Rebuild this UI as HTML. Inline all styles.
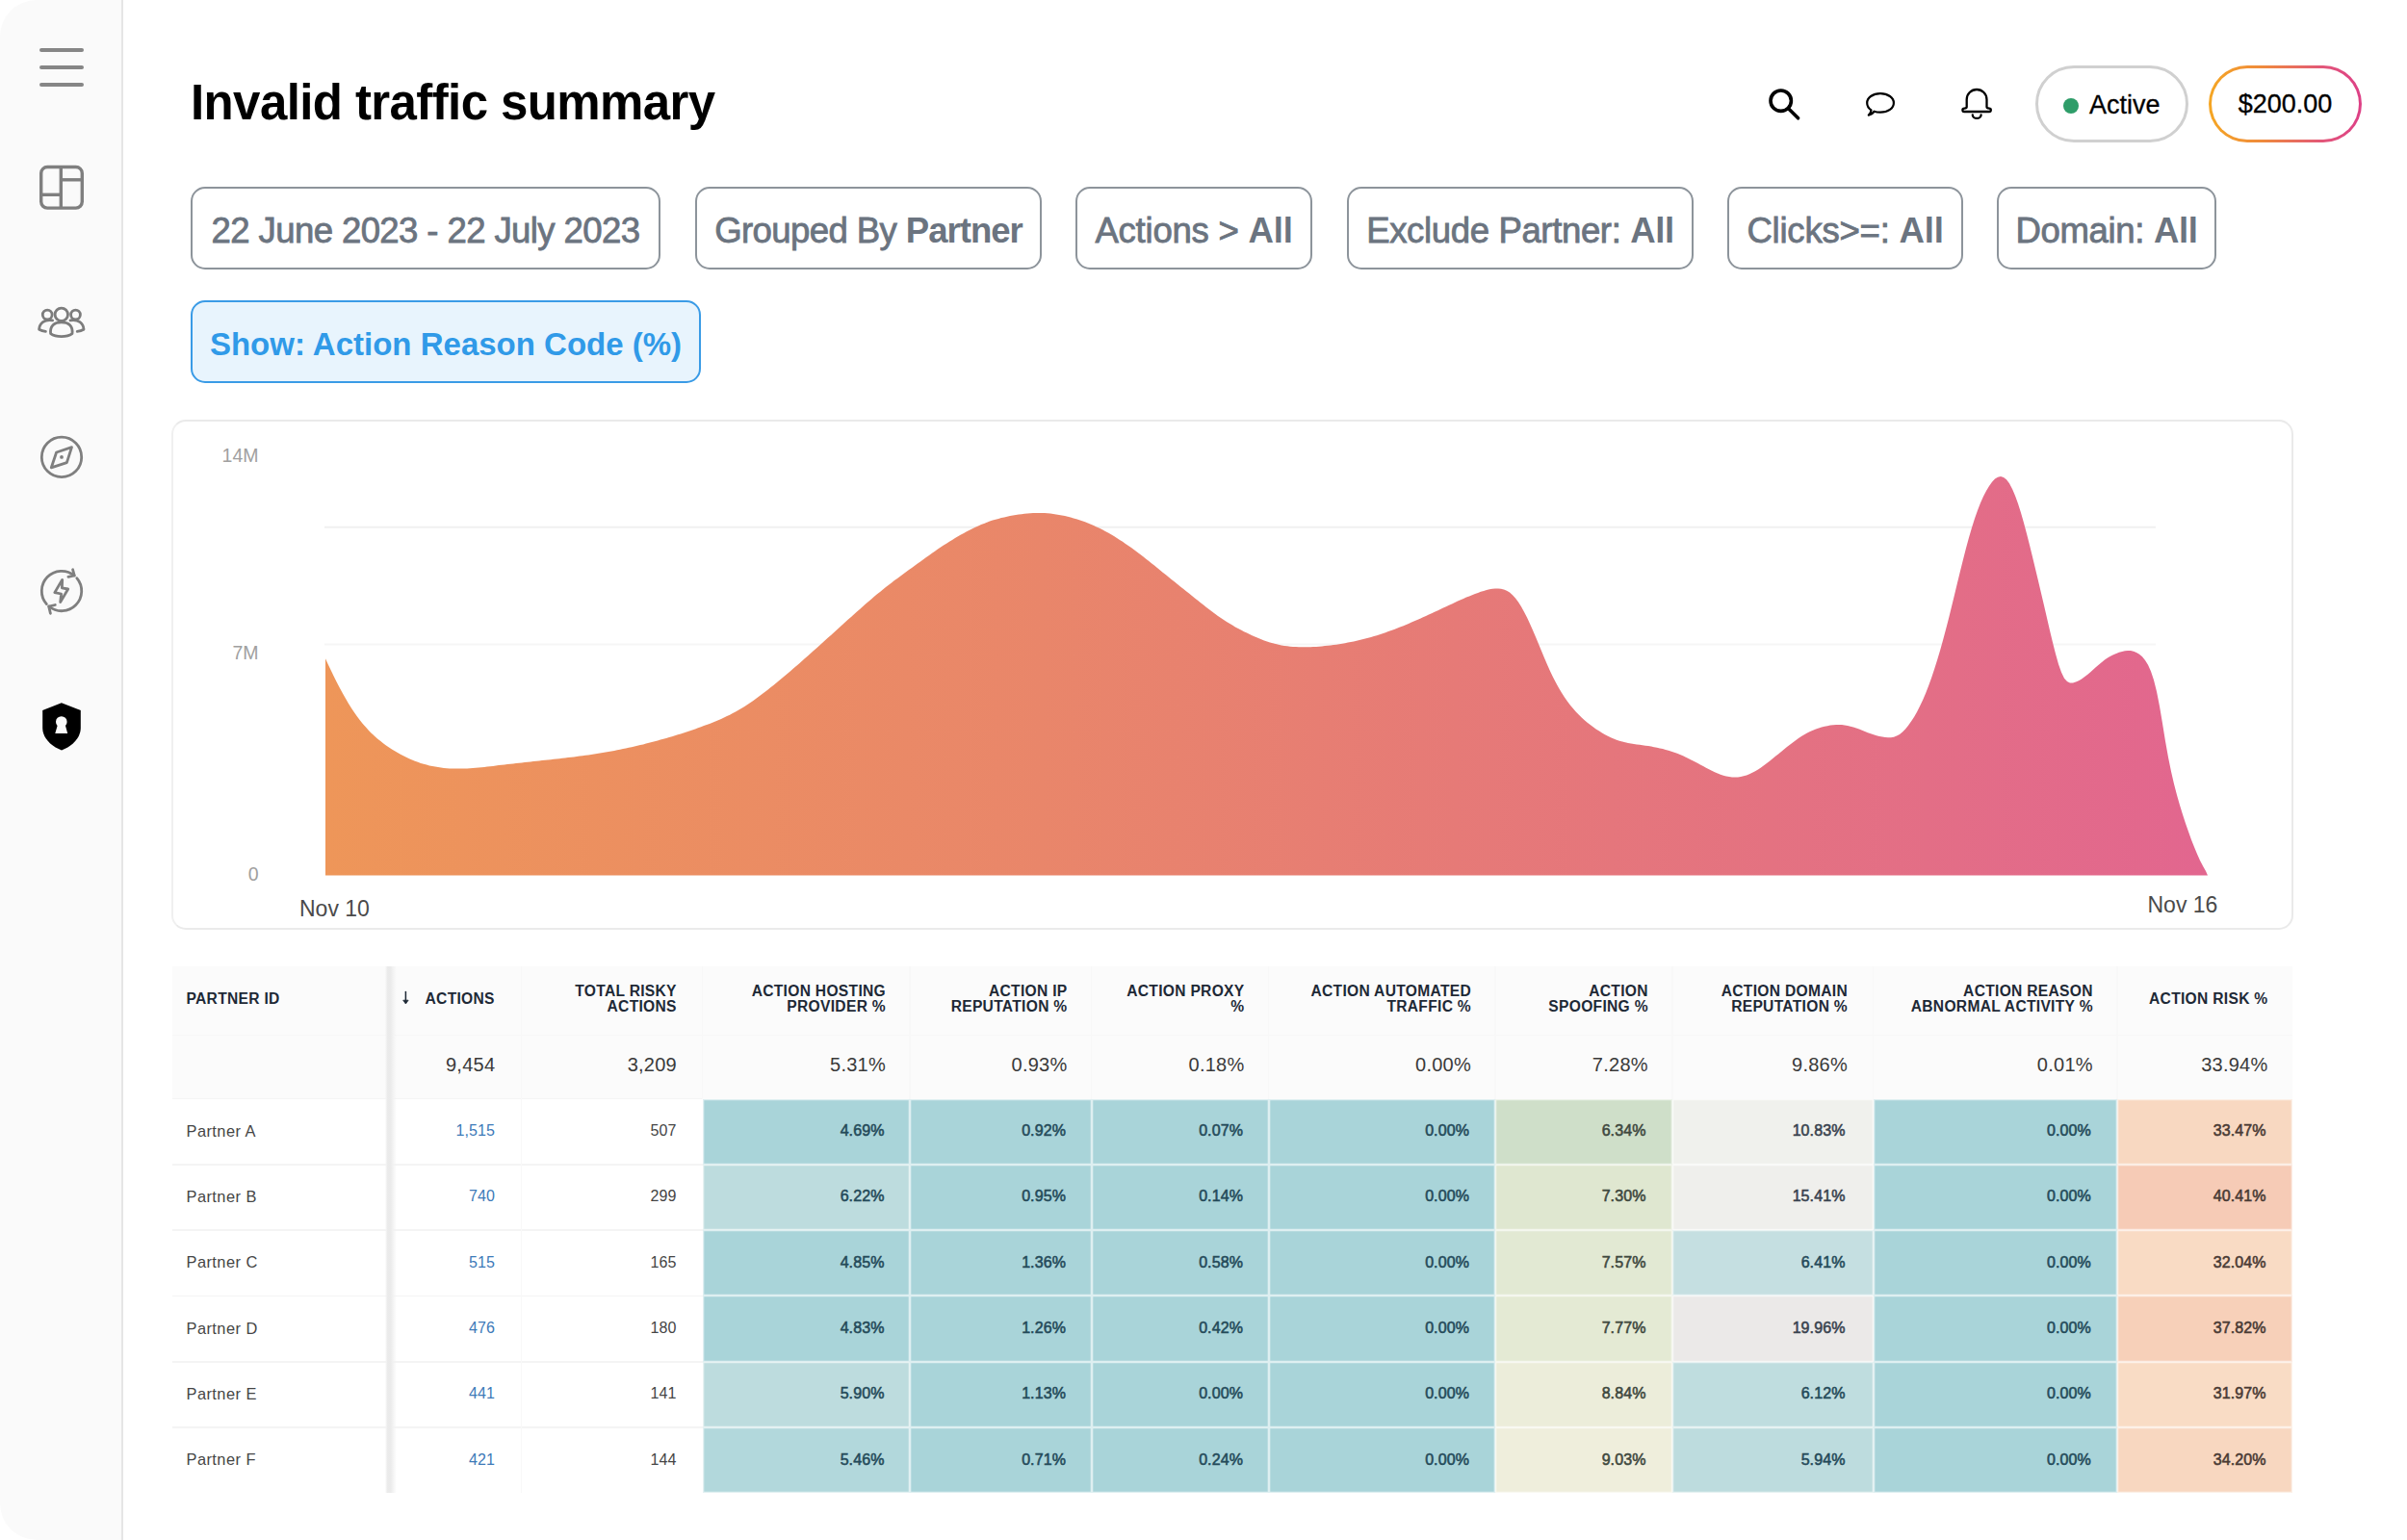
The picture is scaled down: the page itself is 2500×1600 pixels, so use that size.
<!DOCTYPE html>
<html lang="en">
<head>
<meta charset="utf-8">
<title>Invalid traffic summary</title>
<style>
*{box-sizing:border-box;margin:0;padding:0}
html,body{width:2500px;height:1600px;overflow:hidden;background:#fff}
body{font-family:"Liberation Sans",sans-serif;position:relative;color:#000}
.abs{position:absolute}
#side{position:absolute;left:0;top:0;width:128px;height:1600px;background:#fafafa;border-right:2px solid #e5e5e5;border-top-left-radius:38px;border-bottom-left-radius:38px}
#icons{position:absolute;left:0;top:0;width:2500px;height:1600px;z-index:5;pointer-events:none}
h1{position:absolute;left:198px;top:75px;font-size:51px;line-height:64px;font-weight:bold;letter-spacing:-0.6px;white-space:nowrap;color:#000}
.pill{position:absolute;top:68px;height:80px;width:159px;border-radius:40px;font-size:27px;line-height:80px;white-space:nowrap;color:#000}
#active{left:2113.5px;border:3px solid #d0d0d0;background:#fff}
#active i{position:absolute;left:26.5px;top:30.5px;width:16px;height:16px;border-radius:50%;background:#2e9d69}
#active span{position:absolute;left:53.5px;top:-2px;-webkit-text-stroke:.3px #000}
#money{left:2294px;background:linear-gradient(90deg,#f5a623 0%,#ef8a3c 35%,#e2567a 75%,#dd3f86 100%)}
#money b{position:absolute;left:3px;top:3px;right:3px;bottom:3px;border-radius:37px;background:#fff}
#money span{position:absolute;left:0;width:100%;top:0;text-align:center;-webkit-text-stroke:.3px #000}
.fb{position:absolute;top:194px;height:86px;border:2px solid #8d949b;border-radius:15px;color:#6b7480;font-size:36.6px;letter-spacing:-.62px;line-height:88px;white-space:nowrap;text-align:center;background:#fff;-webkit-text-stroke:.8px #6b7480}
.fb b{font-weight:bold;-webkit-text-stroke:0}
#show{top:312px;left:198px;width:530px;border:2px solid #3a9be6;background:#e8f4fd;color:#309ae8;-webkit-text-stroke:0;font-weight:bold;font-size:33px;letter-spacing:0}
#card{position:absolute;left:178.3px;top:436px;width:2203.7px;height:530px;border:2px solid #eaeaea;border-left-color:#f0f0f0;border-radius:15px;background:#fff}
#chart{position:absolute;left:0;top:0;width:2500px;height:1600px}
#chart text{font-family:"Liberation Sans",sans-serif}
.th,.tt,.td{position:absolute;display:flex;align-items:center;justify-content:flex-end;text-align:right;white-space:nowrap}
.th{font-weight:bold;font-size:15.6px;line-height:16.5px;color:#1e2936;padding-right:26px;letter-spacing:.3px;padding-bottom:3px}
.tt{font-size:20px;color:#3a3a3a;padding-right:25.5px;letter-spacing:.25px;padding-bottom:4px}
.td{font-size:16px;color:#454545;padding-right:26.5px;letter-spacing:.1px;padding-bottom:1px}
.td.pn{font-size:16.4px;letter-spacing:.45px}
.td.lk{color:#3d7ab8}
.td.cc{color:#263d49;-webkit-text-stroke:.55px #263d49;box-shadow:inset 0 0 0 1.3px rgba(255,255,255,.62)}
</style>
</head>
<body>
<div id="side"></div>
<svg id="icons" viewBox="0 0 2500 1600" fill="none">
<!-- menu -->
<g stroke="#868686" stroke-width="4" stroke-linecap="round"><line x1="43" y1="52" x2="85" y2="52"/><line x1="43" y1="70" x2="85" y2="70"/><line x1="43" y1="88" x2="85" y2="88"/></g>
<!-- dashboard -->
<g stroke="#7f7f7f" stroke-width="3.4" stroke-linejoin="round"><rect x="42.7" y="173.5" width="42.6" height="42.6" rx="6.5"/><line x1="63.3" y1="173.5" x2="63.3" y2="216"/><line x1="63.3" y1="186.8" x2="85.3" y2="186.8"/><line x1="42.7" y1="202.3" x2="63.3" y2="202.3"/></g>
<!-- people -->
<g stroke="#7c7c7c" stroke-width="2.8" stroke-linecap="round" stroke-linejoin="round">
<circle cx="63.8" cy="326.8" r="6.7"/><circle cx="49.2" cy="327" r="4.9"/><circle cx="78.5" cy="327" r="4.9"/>
<path d="M52.6,346.6 C51.7,338.6 56.2,334.9 63.8,334.9 C71.4,334.9 75.9,338.6 75,346.6 C69.5,350.6 58.1,350.6 52.6,346.6 Z"/>
<path d="M54.6,332.9 C46,331.6 41,335.5 40.6,342.2 C42.6,343.4 45,344.1 47.4,344.4"/>
<path d="M73,332.9 C81.6,331.6 86.6,335.5 87,342.2 C85,343.4 82.6,344.1 80.2,344.4"/>
</g>
<!-- compass -->
<g stroke="#7f7f7f" stroke-width="2.8" stroke-linejoin="round"><circle cx="64" cy="474.9" r="20.7"/><path d="M74.5,464.6 L69.4,480.6 L53.3,485.8 L58.6,470 Z"/><circle cx="64" cy="474.9" r="1.9" fill="#7f7f7f" stroke="none"/></g>
<!-- bolt refresh -->
<g stroke="#7f7f7f" stroke-width="2.8" stroke-linecap="round" stroke-linejoin="round">
<path d="M48.38,627.58 A20.7,20.7 0 0 1 77.11,597.98"/><path d="M75.6,591.8 L77.3,598 L70.9,599.3"/>
<path d="M79.79,600.61 A20.7,20.7 0 0 1 50.86,630"/><path d="M57.3,628.5 L50.7,630.1 L52.4,637.3"/>
<path d="M64.7,602.3 L56.8,615.6 L63.6,617 L62.7,625.6 L70.7,612 L64.4,610.8 Z"/>
</g>
<!-- shield -->
<path d="M63.9,730.2 L83.8,738 V756 C83.8,767 75,775 64,779.6 C53,775 44.2,767 44.2,756 V738 Z" fill="#000"/>
<path d="M59.6,754 A5.8,5.8 0 1 1 68,754 L70.2,762 H57.3 Z" fill="#fafafa"/>
<!-- sort arrow -->
<path d="M421.4,1030.4 V1041" stroke="#1e2936" stroke-width="1.5" stroke-linecap="round"/><path d="M418.7,1039.2 H424.1 L421.4,1043 Z" fill="#1e2936" stroke="#1e2936" stroke-width=".8" stroke-linejoin="round"/>
<!-- search -->
<g stroke="#000" stroke-width="3.6" stroke-linecap="round"><circle cx="1849.7" cy="104.7" r="10.7"/><line x1="1858" y1="113.2" x2="1867.6" y2="122.8"/></g>
<!-- chat -->
<g stroke="#000" stroke-width="2.2" stroke-linejoin="round"><path d="M1953,97.2 C1961,97.2 1966.9,101.4 1966.9,106.9 C1966.9,112.4 1961,116.7 1953,116.7 C1950.6,116.7 1948.5,116.4 1946.6,115.7 C1945.2,117.8 1943.2,119.2 1940.8,119.6 C1942.2,118.3 1943.2,116.4 1943.5,114.3 C1940.8,112.5 1939.2,109.9 1939.2,106.9 C1939.2,101.4 1945,97.2 1953,97.2 Z"/></g>
<!-- bell -->
<g stroke="#000" stroke-width="2.3" stroke-linejoin="round" stroke-linecap="round"><path d="M2042.7,111 V103.4 a10.4,10.4 0 0 1 20.8,0 V111 q0,1.6 2.6,1.6 a1.7,1.7 0 0 1 0,3.4 H2040.1 a1.7,1.7 0 0 1 0,-3.4 q2.6,0 2.6,-1.6 Z"/><path d="M2048.8,119.4 a4.4,3.5 0 0 0 8.8,0"/></g>
</svg>
<h1>Invalid traffic summary</h1>
<div class="pill" id="active"><i></i><span>Active</span></div>
<div class="pill" id="money"><b></b><span>$200.00</span></div>

<div class="fb" style="left:198px;width:488px">22 June 2023 - 22 July 2023</div>
<div class="fb" style="left:722px;width:360px">Grouped By <b style="letter-spacing:-1px">Partner</b></div>
<div class="fb" style="left:1117px;width:246px;letter-spacing:-.25px">Actions &gt; <b>All</b></div>
<div class="fb" style="left:1399px;width:360px;letter-spacing:-.38px">Exclude Partner: <b>All</b></div>
<div class="fb" style="left:1794px;width:245px;letter-spacing:-.25px">Clicks&gt;=: <b>All</b></div>
<div class="fb" style="left:2074px;width:228px;letter-spacing:-.37px">Domain: <b>All</b></div>
<div class="fb" id="show">Show: Action Reason Code (%)</div>

<div id="card"></div>
<svg id="chart" viewBox="0 0 2500 1600">
<defs><linearGradient id="ag" x1="338" y1="0" x2="2294" y2="0" gradientUnits="userSpaceOnUse"><stop offset="0" stop-color="#ee9659"/><stop offset="0.38" stop-color="#e9866a"/><stop offset="0.6" stop-color="#e67a77"/><stop offset="0.85" stop-color="#e36e86"/><stop offset="1" stop-color="#e2668f"/></linearGradient></defs>
<line x1="337" y1="547.7" x2="2239" y2="547.7" stroke="#f0f0f0" stroke-width="2"/>
<line x1="337" y1="669.4" x2="2239" y2="669.4" stroke="#f6f6f6" stroke-width="2"/>
<path fill="url(#ag)" d="M338,909.5 L338,684.3 L341,690.7 L344,697 L347,703.2 L350,709.2 L353,715 L356,720.5 L359,725.8 L362,730.9 L365,735.7 L368,740.2 L371,744.5 L374,748.4 L377,752.2 L380,755.6 L383,758.9 L386,761.9 L389,764.7 L392,767.4 L395,769.8 L398,772.2 L401,774.4 L404,776.4 L407,778.4 L410,780.3 L413,782 L416,783.7 L419,785.3 L422,786.8 L425,788.2 L428,789.5 L431,790.7 L434,791.8 L437,792.9 L440,793.8 L443,794.6 L446,795.4 L449,796 L452,796.6 L455,797.1 L458,797.5 L461,797.9 L464,798.2 L467,798.4 L470,798.5 L473,798.6 L476,798.6 L479,798.6 L482,798.5 L485,798.4 L488,798.2 L491,798 L494,797.8 L497,797.5 L500,797.2 L503,796.9 L506,796.6 L509,796.2 L512,795.9 L515,795.5 L518,795.1 L521,794.8 L524,794.4 L527,794.1 L530,793.7 L533,793.4 L536,793.1 L539,792.7 L542,792.4 L545,792.1 L548,791.8 L551,791.4 L554,791.1 L557,790.8 L560,790.5 L563,790.1 L566,789.8 L569,789.5 L572,789.2 L575,788.8 L578,788.5 L581,788.2 L584,787.8 L587,787.5 L590,787.1 L593,786.7 L596,786.4 L599,786 L602,785.6 L605,785.2 L608,784.8 L611,784.4 L614,783.9 L617,783.5 L620,783 L623,782.5 L626,782 L629,781.5 L632,781 L635,780.5 L638,779.9 L641,779.3 L644,778.7 L647,778.1 L650,777.5 L653,776.8 L656,776.2 L659,775.5 L662,774.8 L665,774.1 L668,773.4 L671,772.6 L674,771.8 L677,771.1 L680,770.3 L683,769.5 L686,768.6 L689,767.8 L692,766.9 L695,766 L698,765.2 L701,764.2 L704,763.3 L707,762.4 L710,761.4 L713,760.4 L716,759.4 L719,758.4 L722,757.4 L725,756.3 L728,755.2 L731,754.1 L734,753 L737,751.9 L740,750.7 L743,749.5 L746,748.2 L749,746.9 L752,745.6 L755,744.1 L758,742.7 L761,741.1 L764,739.5 L767,737.8 L770,736 L773,734.2 L776,732.2 L779,730.2 L782,728.2 L785,726 L788,723.8 L791,721.6 L794,719.3 L797,717 L800,714.6 L803,712.2 L806,709.7 L809,707.3 L812,704.8 L815,702.3 L818,699.7 L821,697.2 L824,694.6 L827,692 L830,689.4 L833,686.8 L836,684.1 L839,681.5 L842,678.8 L845,676.1 L848,673.4 L851,670.7 L854,668 L857,665.3 L860,662.6 L863,659.9 L866,657.2 L869,654.5 L872,651.7 L875,649 L878,646.3 L881,643.6 L884,640.9 L887,638.2 L890,635.6 L893,632.9 L896,630.2 L899,627.6 L902,625 L905,622.4 L908,619.8 L911,617.3 L914,614.9 L917,612.4 L920,610 L923,607.7 L926,605.4 L929,603.1 L932,600.9 L935,598.7 L938,596.5 L941,594.3 L944,592.1 L947,589.9 L950,587.7 L953,585.5 L956,583.4 L959,581.2 L962,579 L965,576.9 L968,574.8 L971,572.7 L974,570.6 L977,568.6 L980,566.6 L983,564.7 L986,562.7 L989,560.9 L992,559 L995,557.3 L998,555.5 L1001,553.9 L1004,552.2 L1007,550.7 L1010,549.2 L1013,547.8 L1016,546.4 L1019,545.1 L1022,543.9 L1025,542.7 L1028,541.6 L1031,540.6 L1034,539.7 L1037,538.9 L1040,538.1 L1043,537.4 L1046,536.7 L1049,536.1 L1052,535.6 L1055,535.1 L1058,534.6 L1061,534.2 L1064,533.8 L1067,533.5 L1070,533.3 L1073,533.1 L1076,533 L1079,532.9 L1082,533 L1085,533.1 L1088,533.3 L1091,533.6 L1094,534 L1097,534.4 L1100,534.9 L1103,535.5 L1106,536.1 L1109,536.8 L1112,537.6 L1115,538.4 L1118,539.3 L1121,540.2 L1124,541.2 L1127,542.3 L1130,543.5 L1133,544.7 L1136,546 L1139,547.4 L1142,548.8 L1145,550.3 L1148,551.9 L1151,553.6 L1154,555.3 L1157,557.1 L1160,558.9 L1163,560.9 L1166,562.8 L1169,564.9 L1172,567 L1175,569.1 L1178,571.3 L1181,573.5 L1184,575.8 L1187,578.1 L1190,580.5 L1193,582.8 L1196,585.2 L1199,587.6 L1202,590 L1205,592.5 L1208,594.9 L1211,597.3 L1214,599.8 L1217,602.2 L1220,604.6 L1223,607 L1226,609.4 L1229,611.8 L1232,614.2 L1235,616.6 L1238,619 L1241,621.4 L1244,623.8 L1247,626.2 L1250,628.5 L1253,630.9 L1256,633.2 L1259,635.5 L1262,637.7 L1265,639.9 L1268,642 L1271,644 L1274,646 L1277,647.8 L1280,649.6 L1283,651.4 L1286,653 L1289,654.6 L1292,656.2 L1295,657.6 L1298,659.1 L1301,660.4 L1304,661.8 L1307,663 L1310,664.2 L1313,665.4 L1316,666.4 L1319,667.4 L1322,668.3 L1325,669.1 L1328,669.8 L1331,670.4 L1334,670.9 L1337,671.3 L1340,671.7 L1343,671.9 L1346,672.1 L1349,672.2 L1352,672.3 L1355,672.3 L1358,672.3 L1361,672.2 L1364,672.1 L1367,671.9 L1370,671.7 L1373,671.4 L1376,671.1 L1379,670.8 L1382,670.5 L1385,670.1 L1388,669.7 L1391,669.2 L1394,668.7 L1397,668.2 L1400,667.6 L1403,667 L1406,666.4 L1409,665.8 L1412,665.1 L1415,664.3 L1418,663.6 L1421,662.8 L1424,661.9 L1427,661.1 L1430,660.2 L1433,659.2 L1436,658.2 L1439,657.2 L1442,656.1 L1445,655 L1448,653.9 L1451,652.8 L1454,651.6 L1457,650.4 L1460,649.2 L1463,647.9 L1466,646.6 L1469,645.3 L1472,644 L1475,642.7 L1478,641.3 L1481,640 L1484,638.6 L1487,637.2 L1490,635.8 L1493,634.4 L1496,633 L1499,631.6 L1502,630.2 L1505,628.8 L1508,627.4 L1511,626 L1514,624.6 L1517,623.3 L1520,621.9 L1523,620.6 L1526,619.4 L1529,618.2 L1532,617 L1535,615.9 L1538,614.8 L1541,613.9 L1544,613 L1547,612.3 L1550,611.8 L1553,611.5 L1556,611.5 L1559,611.8 L1562,612.5 L1565,613.7 L1568,615.6 L1571,618.2 L1574,621.5 L1577,625.6 L1580,630.3 L1583,635.7 L1586,641.6 L1589,648 L1592,654.7 L1595,661.8 L1598,669 L1601,676.3 L1604,683.5 L1607,690.5 L1610,697.2 L1613,703.4 L1616,709.3 L1619,714.7 L1622,719.8 L1625,724.4 L1628,728.7 L1631,732.7 L1634,736.3 L1637,739.7 L1640,742.8 L1643,745.7 L1646,748.4 L1649,751 L1652,753.3 L1655,755.6 L1658,757.7 L1661,759.6 L1664,761.5 L1667,763.2 L1670,764.8 L1673,766.2 L1676,767.5 L1679,768.7 L1682,769.7 L1685,770.5 L1688,771.3 L1691,771.9 L1694,772.4 L1697,772.9 L1700,773.4 L1703,773.8 L1706,774.3 L1709,774.7 L1712,775.1 L1715,775.6 L1718,776.2 L1721,776.7 L1724,777.4 L1727,778.1 L1730,778.9 L1733,779.7 L1736,780.7 L1739,781.7 L1742,782.8 L1745,784.1 L1748,785.3 L1751,786.7 L1754,788.2 L1757,789.7 L1760,791.2 L1763,792.8 L1766,794.5 L1769,796.1 L1772,797.7 L1775,799.3 L1778,800.8 L1781,802.2 L1784,803.5 L1787,804.7 L1790,805.7 L1793,806.5 L1796,807.1 L1799,807.5 L1802,807.6 L1805,807.4 L1808,807 L1811,806.3 L1814,805.4 L1817,804.2 L1820,802.8 L1823,801.2 L1826,799.4 L1829,797.4 L1832,795.2 L1835,793 L1838,790.7 L1841,788.3 L1844,785.8 L1847,783.4 L1850,780.9 L1853,778.5 L1856,776.1 L1859,773.7 L1862,771.4 L1865,769.2 L1868,767.1 L1871,765.1 L1874,763.3 L1877,761.6 L1880,760.1 L1883,758.7 L1886,757.5 L1889,756.5 L1892,755.6 L1895,754.8 L1898,754.2 L1901,753.6 L1904,753.3 L1907,753 L1910,753 L1913,753.1 L1916,753.4 L1919,754 L1922,754.7 L1925,755.5 L1928,756.5 L1931,757.6 L1934,758.8 L1937,760 L1940,761.2 L1943,762.3 L1946,763.3 L1949,764.2 L1952,765 L1955,765.6 L1958,766 L1961,766.2 L1964,766.2 L1967,765.7 L1970,764.6 L1973,762.9 L1976,760.6 L1979,757.5 L1982,753.8 L1985,749.6 L1988,744.9 L1991,739.7 L1994,733.8 L1997,727.4 L2000,720.4 L2003,712.7 L2006,704.5 L2009,695.6 L2012,686.1 L2015,676 L2018,665.3 L2021,654.1 L2024,642.4 L2027,630.3 L2030,618 L2033,605.5 L2036,593.2 L2039,581.2 L2042,569.6 L2045,558.6 L2048,548.3 L2051,538.8 L2054,530.2 L2057,522.6 L2060,515.8 L2063,510 L2066,504.9 L2069,500.8 L2072,497.6 L2075,495.7 L2078,495 L2081,495.9 L2084,498.3 L2087,502.3 L2090,507.9 L2093,514.9 L2096,523.3 L2099,532.8 L2102,543.2 L2105,554.5 L2108,566.3 L2111,578.4 L2114,590.9 L2117,603.5 L2120,616.2 L2123,629.1 L2126,642.1 L2129,654.9 L2132,667.5 L2135,679.3 L2138,689.9 L2141,698.6 L2144,704.7 L2147,708.1 L2150,709.4 L2153,709.4 L2156,708.6 L2159,707.2 L2162,705.4 L2165,703.3 L2168,700.9 L2171,698.4 L2174,695.7 L2177,693 L2180,690.4 L2183,687.9 L2186,685.6 L2189,683.6 L2192,681.8 L2195,680.2 L2198,678.9 L2201,677.8 L2204,676.9 L2207,676.3 L2210,675.9 L2213,676.1 L2216,676.7 L2219,677.9 L2222,679.7 L2225,682.3 L2228,685.9 L2231,690.8 L2234,697.5 L2237,706.4 L2240,718.4 L2243,733.7 L2246,751.6 L2249,770 L2252,786.8 L2255,801.5 L2258,814.4 L2261,825.9 L2264,836.4 L2267,846.2 L2270,855.4 L2273,864.1 L2276,872.4 L2279,880.1 L2282,887.3 L2285,893.9 L2288,899.8 L2291,905.1 L2293,909.4 L2293,909.5 Z"/>
<g font-size="19.5" fill="#a0a0a0" text-anchor="end"><text x="268.5" y="480">14M</text><text x="268.5" y="685">7M</text><text x="268.5" y="914.5">0</text></g>
<g font-size="23" fill="#4a4a4a"><text x="311" y="951.5">Nov 10</text><text x="2230.5" y="947.5">Nov 16</text></g>
</svg>
<div class="abs" style="left:178.5px;top:1004px;width:2202px;height:137.5px;background:#fbfbfb"></div>
<div class="abs" style="left:178.5px;top:1074.5px;width:2202px;height:1.5px;background:#f7f7f7"></div>
<div class="abs" style="left:178.5px;top:1140.8px;width:551px;height:1.5px;background:#f4f4f4"></div>
<div class="abs" style="left:178.5px;top:1209.1px;width:551px;height:1.5px;background:#f4f4f4"></div>
<div class="abs" style="left:178.5px;top:1277.4px;width:551px;height:1.5px;background:#f4f4f4"></div>
<div class="abs" style="left:178.5px;top:1345.7px;width:551px;height:1.5px;background:#f4f4f4"></div>
<div class="abs" style="left:178.5px;top:1414.0px;width:551px;height:1.5px;background:#f4f4f4"></div>
<div class="abs" style="left:178.5px;top:1482.3px;width:551px;height:1.5px;background:#f4f4f4"></div>
<div class="abs" style="left:540.8px;top:1004px;width:1.5px;height:137.5px;background:#f8f8f8"></div>
<div class="abs" style="left:728.8px;top:1004px;width:1.5px;height:137.5px;background:#f8f8f8"></div>
<div class="abs" style="left:944.3px;top:1004px;width:1.5px;height:137.5px;background:#f8f8f8"></div>
<div class="abs" style="left:1132.8px;top:1004px;width:1.5px;height:137.5px;background:#f8f8f8"></div>
<div class="abs" style="left:1316.8px;top:1004px;width:1.5px;height:137.5px;background:#f8f8f8"></div>
<div class="abs" style="left:1552.3px;top:1004px;width:1.5px;height:137.5px;background:#f8f8f8"></div>
<div class="abs" style="left:1736.3px;top:1004px;width:1.5px;height:137.5px;background:#f8f8f8"></div>
<div class="abs" style="left:1944.8px;top:1004px;width:1.5px;height:137.5px;background:#f8f8f8"></div>
<div class="abs" style="left:2198.3px;top:1004px;width:1.5px;height:137.5px;background:#f8f8f8"></div>
<div class="abs" style="left:540.8px;top:1141.5px;width:1.5px;height:409.8px;background:#f8f8f8"></div>
<div class="abs" style="left:399.5px;top:1004px;width:13px;height:547.3px;background:linear-gradient(90deg,rgba(245,245,245,0) 0,#f3f3f3 1.2px,#eaeaea 2.8px,#ebebeb 5.5px,#f2f2f2 8px,rgba(250,250,250,0) 12px)"></div>
<div class="th" style="left:178.5px;top:1004px;width:223.5px;height:71px;justify-content:flex-start;padding-left:15px">PARTNER ID</div>
<div class="th" style="left:402.0px;top:1004px;width:139.5px;height:71px;padding-right:27.7px">ACTIONS</div>
<div class="th" style="left:541.5px;top:1004px;width:188.0px;height:71px;padding-right:26.7px">TOTAL RISKY<br>ACTIONS</div>
<div class="th" style="left:729.5px;top:1004px;width:215.5px;height:71px;padding-right:25px">ACTION HOSTING<br>PROVIDER %</div>
<div class="th" style="left:945.0px;top:1004px;width:188.5px;height:71px;padding-right:25px">ACTION IP<br>REPUTATION %</div>
<div class="th" style="left:1133.5px;top:1004px;width:184.0px;height:71px;padding-right:25px">ACTION PROXY<br>%</div>
<div class="th" style="left:1317.5px;top:1004px;width:235.5px;height:71px;padding-right:25px">ACTION AUTOMATED<br>TRAFFIC %</div>
<div class="th" style="left:1553.0px;top:1004px;width:184.0px;height:71px;padding-right:25.2px">ACTION<br>SPOOFING %</div>
<div class="th" style="left:1737.0px;top:1004px;width:208.5px;height:71px;padding-right:26.5px">ACTION DOMAIN<br>REPUTATION %</div>
<div class="th" style="left:1945.5px;top:1004px;width:253.5px;height:71px;padding-right:25.2px">ACTION REASON<br>ABNORMAL ACTIVITY %</div>
<div class="th" style="left:2199.0px;top:1004px;width:181.5px;height:71px;padding-right:25px">ACTION RISK %</div>
<div class="tt" style="left:402.0px;top:1075px;width:139.5px;height:66.5px;padding-right:27.2px">9,454</div>
<div class="tt" style="left:541.5px;top:1075px;width:188.0px;height:66.5px;padding-right:26.5px">3,209</div>
<div class="tt" style="left:729.5px;top:1075px;width:215.5px;height:66.5px;padding-right:25px">5.31%</div>
<div class="tt" style="left:945.0px;top:1075px;width:188.5px;height:66.5px;padding-right:25px">0.93%</div>
<div class="tt" style="left:1133.5px;top:1075px;width:184.0px;height:66.5px;padding-right:25px">0.18%</div>
<div class="tt" style="left:1317.5px;top:1075px;width:235.5px;height:66.5px;padding-right:25px">0.00%</div>
<div class="tt" style="left:1553.0px;top:1075px;width:184.0px;height:66.5px;padding-right:25.2px">7.28%</div>
<div class="tt" style="left:1737.0px;top:1075px;width:208.5px;height:66.5px;padding-right:26.5px">9.86%</div>
<div class="tt" style="left:1945.5px;top:1075px;width:253.5px;height:66.5px;padding-right:25.2px">0.01%</div>
<div class="tt" style="left:2199.0px;top:1075px;width:181.5px;height:66.5px;padding-right:25px">33.94%</div>
<div class="td pn" style="left:178.5px;top:1141.5px;width:223.5px;height:68.3px;justify-content:flex-start;padding-left:15px">Partner A</div>
<div class="td lk" style="left:402.0px;top:1141.5px;width:139.5px;height:68.3px;padding-right:27.5px">1,515</div>
<div class="td" style="left:541.5px;top:1141.5px;width:188.0px;height:68.3px;padding-right:27px">507</div>
<div class="td cc" style="left:729.5px;top:1141.5px;width:215.5px;height:68.3px;background:#a9d4d9;padding-right:26.5px;color:#244a59;-webkit-text-stroke-color:#244a59">4.69%</div>
<div class="td cc" style="left:945.0px;top:1141.5px;width:188.5px;height:68.3px;background:#a9d4d9;padding-right:26.5px;color:#244a59;-webkit-text-stroke-color:#244a59">0.92%</div>
<div class="td cc" style="left:1133.5px;top:1141.5px;width:184.0px;height:68.3px;background:#a9d4d9;padding-right:26.5px;color:#244a59;-webkit-text-stroke-color:#244a59">0.07%</div>
<div class="td cc" style="left:1317.5px;top:1141.5px;width:235.5px;height:68.3px;background:#a9d4d9;padding-right:27px;color:#244a59;-webkit-text-stroke-color:#244a59">0.00%</div>
<div class="td cc" style="left:1553.0px;top:1141.5px;width:184.0px;height:68.3px;background:#cfdfc9;padding-right:27.5px;color:#3e483e;-webkit-text-stroke-color:#3e483e">6.34%</div>
<div class="td cc" style="left:1737.0px;top:1141.5px;width:208.5px;height:68.3px;background:#f0f1ed;padding-right:29px;color:#39434f;-webkit-text-stroke-color:#39434f">10.83%</div>
<div class="td cc" style="left:1945.5px;top:1141.5px;width:253.5px;height:68.3px;background:#a9d4d9;padding-right:27.2px;color:#244a59;-webkit-text-stroke-color:#244a59">0.00%</div>
<div class="td cc" style="left:2199.0px;top:1141.5px;width:181.5px;height:68.3px;background:#f8d8c1;padding-right:26.8px;color:#493a34;-webkit-text-stroke-color:#493a34">33.47%</div>
<div class="td pn" style="left:178.5px;top:1209.8px;width:223.5px;height:68.3px;justify-content:flex-start;padding-left:15px">Partner B</div>
<div class="td lk" style="left:402.0px;top:1209.8px;width:139.5px;height:68.3px;padding-right:27.5px">740</div>
<div class="td" style="left:541.5px;top:1209.8px;width:188.0px;height:68.3px;padding-right:27px">299</div>
<div class="td cc" style="left:729.5px;top:1209.8px;width:215.5px;height:68.3px;background:#bddcde;padding-right:26.5px;color:#244a59;-webkit-text-stroke-color:#244a59">6.22%</div>
<div class="td cc" style="left:945.0px;top:1209.8px;width:188.5px;height:68.3px;background:#a9d4d9;padding-right:26.5px;color:#244a59;-webkit-text-stroke-color:#244a59">0.95%</div>
<div class="td cc" style="left:1133.5px;top:1209.8px;width:184.0px;height:68.3px;background:#a9d4d9;padding-right:26.5px;color:#244a59;-webkit-text-stroke-color:#244a59">0.14%</div>
<div class="td cc" style="left:1317.5px;top:1209.8px;width:235.5px;height:68.3px;background:#a9d4d9;padding-right:27px;color:#244a59;-webkit-text-stroke-color:#244a59">0.00%</div>
<div class="td cc" style="left:1553.0px;top:1209.8px;width:184.0px;height:68.3px;background:#dfe7d0;padding-right:27.5px;color:#3e483e;-webkit-text-stroke-color:#3e483e">7.30%</div>
<div class="td cc" style="left:1737.0px;top:1209.8px;width:208.5px;height:68.3px;background:#efefec;padding-right:29px;color:#39434f;-webkit-text-stroke-color:#39434f">15.41%</div>
<div class="td cc" style="left:1945.5px;top:1209.8px;width:253.5px;height:68.3px;background:#a9d4d9;padding-right:27.2px;color:#244a59;-webkit-text-stroke-color:#244a59">0.00%</div>
<div class="td cc" style="left:2199.0px;top:1209.8px;width:181.5px;height:68.3px;background:#f6cbb6;padding-right:26.8px;color:#493a34;-webkit-text-stroke-color:#493a34">40.41%</div>
<div class="td pn" style="left:178.5px;top:1278.1px;width:223.5px;height:68.3px;justify-content:flex-start;padding-left:15px">Partner C</div>
<div class="td lk" style="left:402.0px;top:1278.1px;width:139.5px;height:68.3px;padding-right:27.5px">515</div>
<div class="td" style="left:541.5px;top:1278.1px;width:188.0px;height:68.3px;padding-right:27px">165</div>
<div class="td cc" style="left:729.5px;top:1278.1px;width:215.5px;height:68.3px;background:#a9d4d9;padding-right:26.5px;color:#244a59;-webkit-text-stroke-color:#244a59">4.85%</div>
<div class="td cc" style="left:945.0px;top:1278.1px;width:188.5px;height:68.3px;background:#a9d4d9;padding-right:26.5px;color:#244a59;-webkit-text-stroke-color:#244a59">1.36%</div>
<div class="td cc" style="left:1133.5px;top:1278.1px;width:184.0px;height:68.3px;background:#a9d4d9;padding-right:26.5px;color:#244a59;-webkit-text-stroke-color:#244a59">0.58%</div>
<div class="td cc" style="left:1317.5px;top:1278.1px;width:235.5px;height:68.3px;background:#a9d4d9;padding-right:27px;color:#244a59;-webkit-text-stroke-color:#244a59">0.00%</div>
<div class="td cc" style="left:1553.0px;top:1278.1px;width:184.0px;height:68.3px;background:#e2e9d3;padding-right:27.5px;color:#3e483e;-webkit-text-stroke-color:#3e483e">7.57%</div>
<div class="td cc" style="left:1737.0px;top:1278.1px;width:208.5px;height:68.3px;background:#c5dfe1;padding-right:29px;color:#244a59;-webkit-text-stroke-color:#244a59">6.41%</div>
<div class="td cc" style="left:1945.5px;top:1278.1px;width:253.5px;height:68.3px;background:#a9d4d9;padding-right:27.2px;color:#244a59;-webkit-text-stroke-color:#244a59">0.00%</div>
<div class="td cc" style="left:2199.0px;top:1278.1px;width:181.5px;height:68.3px;background:#f9dbc4;padding-right:26.8px;color:#493a34;-webkit-text-stroke-color:#493a34">32.04%</div>
<div class="td pn" style="left:178.5px;top:1346.4px;width:223.5px;height:68.3px;justify-content:flex-start;padding-left:15px">Partner D</div>
<div class="td lk" style="left:402.0px;top:1346.4px;width:139.5px;height:68.3px;padding-right:27.5px">476</div>
<div class="td" style="left:541.5px;top:1346.4px;width:188.0px;height:68.3px;padding-right:27px">180</div>
<div class="td cc" style="left:729.5px;top:1346.4px;width:215.5px;height:68.3px;background:#a9d4d9;padding-right:26.5px;color:#244a59;-webkit-text-stroke-color:#244a59">4.83%</div>
<div class="td cc" style="left:945.0px;top:1346.4px;width:188.5px;height:68.3px;background:#a9d4d9;padding-right:26.5px;color:#244a59;-webkit-text-stroke-color:#244a59">1.26%</div>
<div class="td cc" style="left:1133.5px;top:1346.4px;width:184.0px;height:68.3px;background:#a9d4d9;padding-right:26.5px;color:#244a59;-webkit-text-stroke-color:#244a59">0.42%</div>
<div class="td cc" style="left:1317.5px;top:1346.4px;width:235.5px;height:68.3px;background:#a9d4d9;padding-right:27px;color:#244a59;-webkit-text-stroke-color:#244a59">0.00%</div>
<div class="td cc" style="left:1553.0px;top:1346.4px;width:184.0px;height:68.3px;background:#e4ead4;padding-right:27.5px;color:#3e483e;-webkit-text-stroke-color:#3e483e">7.77%</div>
<div class="td cc" style="left:1737.0px;top:1346.4px;width:208.5px;height:68.3px;background:#ebe9e8;padding-right:29px;color:#39434f;-webkit-text-stroke-color:#39434f">19.96%</div>
<div class="td cc" style="left:1945.5px;top:1346.4px;width:253.5px;height:68.3px;background:#a9d4d9;padding-right:27.2px;color:#244a59;-webkit-text-stroke-color:#244a59">0.00%</div>
<div class="td cc" style="left:2199.0px;top:1346.4px;width:181.5px;height:68.3px;background:#f7d0b9;padding-right:26.8px;color:#493a34;-webkit-text-stroke-color:#493a34">37.82%</div>
<div class="td pn" style="left:178.5px;top:1414.7px;width:223.5px;height:68.3px;justify-content:flex-start;padding-left:15px">Partner E</div>
<div class="td lk" style="left:402.0px;top:1414.7px;width:139.5px;height:68.3px;padding-right:27.5px">441</div>
<div class="td" style="left:541.5px;top:1414.7px;width:188.0px;height:68.3px;padding-right:27px">141</div>
<div class="td cc" style="left:729.5px;top:1414.7px;width:215.5px;height:68.3px;background:#bddcde;padding-right:26.5px;color:#244a59;-webkit-text-stroke-color:#244a59">5.90%</div>
<div class="td cc" style="left:945.0px;top:1414.7px;width:188.5px;height:68.3px;background:#a9d4d9;padding-right:26.5px;color:#244a59;-webkit-text-stroke-color:#244a59">1.13%</div>
<div class="td cc" style="left:1133.5px;top:1414.7px;width:184.0px;height:68.3px;background:#a9d4d9;padding-right:26.5px;color:#244a59;-webkit-text-stroke-color:#244a59">0.00%</div>
<div class="td cc" style="left:1317.5px;top:1414.7px;width:235.5px;height:68.3px;background:#a9d4d9;padding-right:27px;color:#244a59;-webkit-text-stroke-color:#244a59">0.00%</div>
<div class="td cc" style="left:1553.0px;top:1414.7px;width:184.0px;height:68.3px;background:#ecedda;padding-right:27.5px;color:#3e483e;-webkit-text-stroke-color:#3e483e">8.84%</div>
<div class="td cc" style="left:1737.0px;top:1414.7px;width:208.5px;height:68.3px;background:#bfdddf;padding-right:29px;color:#244a59;-webkit-text-stroke-color:#244a59">6.12%</div>
<div class="td cc" style="left:1945.5px;top:1414.7px;width:253.5px;height:68.3px;background:#a9d4d9;padding-right:27.2px;color:#244a59;-webkit-text-stroke-color:#244a59">0.00%</div>
<div class="td cc" style="left:2199.0px;top:1414.7px;width:181.5px;height:68.3px;background:#f9dcc5;padding-right:26.8px;color:#493a34;-webkit-text-stroke-color:#493a34">31.97%</div>
<div class="td pn" style="left:178.5px;top:1483.0px;width:223.5px;height:68.3px;justify-content:flex-start;padding-left:15px">Partner F</div>
<div class="td lk" style="left:402.0px;top:1483.0px;width:139.5px;height:68.3px;padding-right:27.5px">421</div>
<div class="td" style="left:541.5px;top:1483.0px;width:188.0px;height:68.3px;padding-right:27px">144</div>
<div class="td cc" style="left:729.5px;top:1483.0px;width:215.5px;height:68.3px;background:#b2d8dc;padding-right:26.5px;color:#244a59;-webkit-text-stroke-color:#244a59">5.46%</div>
<div class="td cc" style="left:945.0px;top:1483.0px;width:188.5px;height:68.3px;background:#a9d4d9;padding-right:26.5px;color:#244a59;-webkit-text-stroke-color:#244a59">0.71%</div>
<div class="td cc" style="left:1133.5px;top:1483.0px;width:184.0px;height:68.3px;background:#a9d4d9;padding-right:26.5px;color:#244a59;-webkit-text-stroke-color:#244a59">0.24%</div>
<div class="td cc" style="left:1317.5px;top:1483.0px;width:235.5px;height:68.3px;background:#a9d4d9;padding-right:27px;color:#244a59;-webkit-text-stroke-color:#244a59">0.00%</div>
<div class="td cc" style="left:1553.0px;top:1483.0px;width:184.0px;height:68.3px;background:#efeedc;padding-right:27.5px;color:#3e483e;-webkit-text-stroke-color:#3e483e">9.03%</div>
<div class="td cc" style="left:1737.0px;top:1483.0px;width:208.5px;height:68.3px;background:#bddcde;padding-right:29px;color:#244a59;-webkit-text-stroke-color:#244a59">5.94%</div>
<div class="td cc" style="left:1945.5px;top:1483.0px;width:253.5px;height:68.3px;background:#a9d4d9;padding-right:27.2px;color:#244a59;-webkit-text-stroke-color:#244a59">0.00%</div>
<div class="td cc" style="left:2199.0px;top:1483.0px;width:181.5px;height:68.3px;background:#f8d7c0;padding-right:26.8px;color:#493a34;-webkit-text-stroke-color:#493a34">34.20%</div>
</body>
</html>
